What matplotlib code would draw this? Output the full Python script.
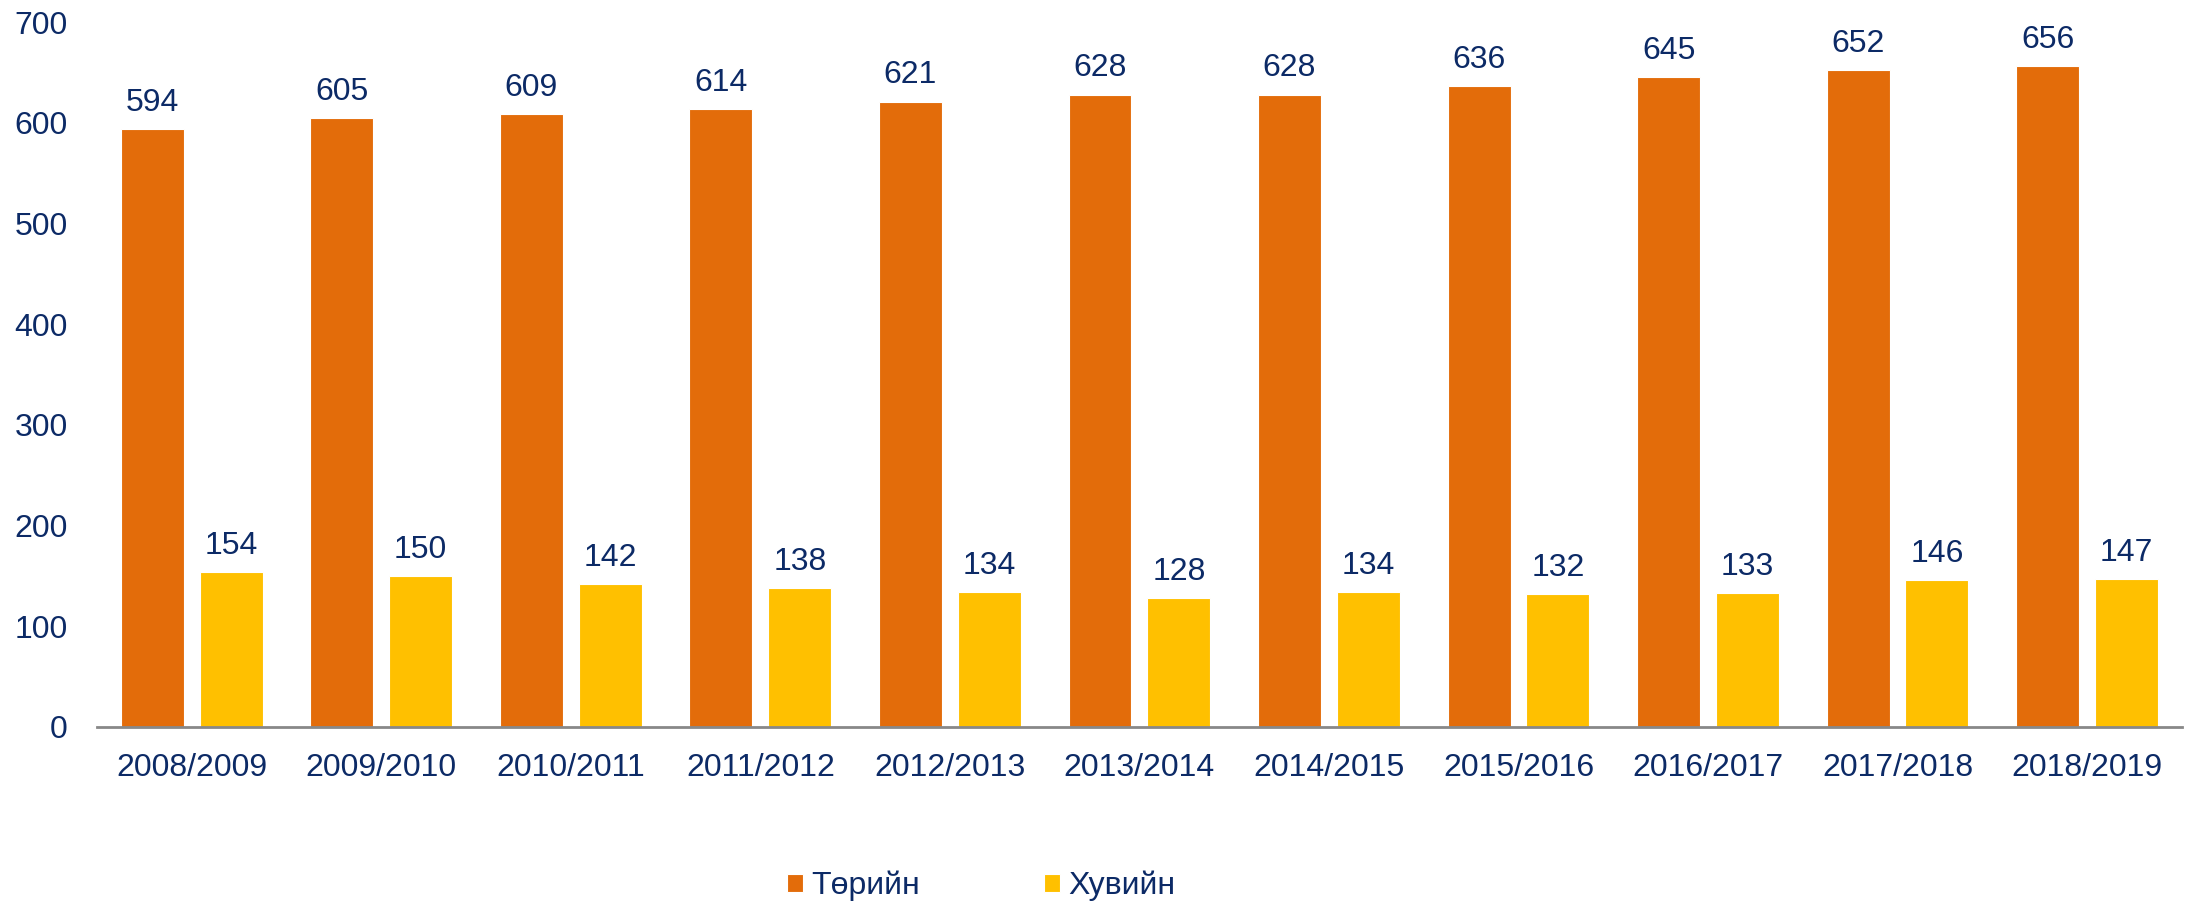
import numpy as np
import matplotlib
matplotlib.use("Agg")
import matplotlib.pyplot as plt

plt.rcParams['font.family'] = ['Liberation Sans', 'DejaVu Sans']

years = ["2008/2009", "2009/2010", "2010/2011", "2011/2012", "2012/2013", "2013/2014",
         "2014/2015", "2015/2016", "2016/2017", "2017/2018", "2018/2019"]
public = [594, 605, 609, 614, 621, 628, 628, 636, 645, 652, 656]
private = [154, 150, 142, 138, 134, 128, 134, 132, 133, 146, 147]

navy = "#0c2a66"
orange = "#e36c0a"
yellow = "#ffc000"
fs = 23

fig = plt.figure(figsize=(21.95, 9.06), dpi=100)
ax = fig.add_axes([0.0442, 0.1976, 0.9498, 0.7781])

x = np.arange(len(years))
w = 0.332
b1 = ax.bar(x - 0.208, public, w, color=orange, edgecolor="white", linewidth=0.8, label="Төрийн")
b2 = ax.bar(x + 0.208, private, w, color=yellow, edgecolor="white", linewidth=0.8, label="Хувийн")

for bars in (b1, b2):
    for r in bars:
        ax.annotate(str(int(r.get_height())), (r.get_x() + r.get_width() / 2, r.get_height()),
                    xytext=(0, 8), textcoords="offset points", ha="center", va="bottom",
                    fontsize=fs, color=navy)

ax.set_xlim(-0.5, len(years) - 0.5)
ax.set_ylim(0, 700)
ax.set_yticks(range(0, 701, 100))
ax.set_xticks(x)
ax.set_xticklabels(years)
ax.tick_params(axis="both", length=0, labelsize=fs, labelcolor=navy)
ax.tick_params(axis="x", pad=19)
ax.tick_params(axis="y", pad=21)

for s in ["top", "right", "left"]:
    ax.spines[s].set_visible(False)
ax.spines["bottom"].set_color("#888888")
ax.spines["bottom"].set_linewidth(2)

leg = fig.legend(handles=[b1, b2], loc="center", bbox_to_anchor=(0.447, 0.022), ncol=2,
                 frameon=False, fontsize=fs, handlelength=0.5, handleheight=0.5,
                 handletextpad=0.25, columnspacing=3.9)
for t in leg.get_texts():
    t.set_color(navy)

fig.savefig("out.png", dpi=100)
